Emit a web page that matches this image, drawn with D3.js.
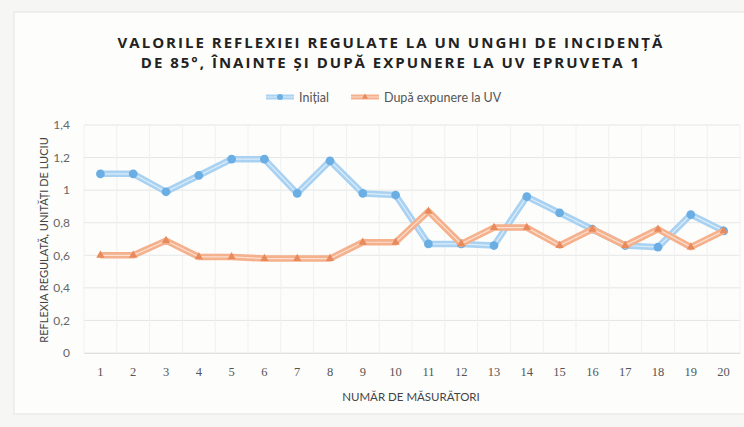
<!DOCTYPE html>
<html>
<head>
<meta charset="utf-8">
<script src="https://cdn.jsdelivr.net/npm/d3@7"></script>
<style>
  body { margin: 0; background: #f6f6f4; }
  svg { display: block; }
</style>
</head>
<body>
<div id="chart"></div>
<script>
// data
const categories = ["1","2","3","4","5","6","7","8","9","10","11","12","13","14","15","16","17","18","19","20"];
const initial = [1.10,1.10,0.99,1.09,1.19,1.19,0.98,1.18,0.98,0.97,0.67,0.67,0.66,0.96,0.86,0.76,0.66,0.65,0.85,0.75];
const afterUV = [0.60,0.60,0.69,0.59,0.59,0.58,0.58,0.58,0.68,0.68,0.87,0.67,0.77,0.77,0.66,0.76,0.66,0.76,0.65,0.75];
const yTicks = [0,0.2,0.4,0.6,0.8,1,1.2,1.4];
const titleLines = ["VALORILE REFLEXIEI REGULATE LA UN UNGHI DE INCIDENȚĂ", "DE 85°, ÎNAINTE ȘI DUPĂ EXPUNERE LA UV EPRUVETA 1"];
const seriesNames = ["Inițial", "După expunere la UV"];

const W = 744, H = 427;
const margin = {top: 125, right: 4, bottom: 74, left: 84};
const w = W - margin.left - margin.right,
      h = H - margin.top - margin.bottom;

const svg = d3.select("#chart").append("svg")
    .attr("width", W)
    .attr("height", H);

// chart frame (scanned page)
svg.append("rect")
    .attr("x", 14).attr("y", 12)
    .attr("width", W - 10).attr("height", 402)
    .attr("fill", "#fdfdfc")
    .attr("stroke", "#e4e4e2");

const g = svg.append("g")
    .attr("transform", `translate(${margin.left},${margin.top})`);

let x = d3.scaleBand().domain(categories).range([0, w]);
let y = d3.scaleLinear().domain([0, 1.4]).range([h, 0]);
const cx = d => x(d) + x.bandwidth() / 2;

// grid
g.append("g").selectAll("line.h")
  .data(yTicks)
  .enter().append("line")
    .attr("x1", 0).attr("x2", w)
    .attr("y1", d => y(d)).attr("y2", d => y(d))
    .attr("stroke", "#e6e6e6").attr("stroke-width", 1);
g.append("g").selectAll("line.v")
  .data(categories.concat(["end"]))
  .enter().append("line")
    .attr("x1", (d, i) => i * x.bandwidth()).attr("x2", (d, i) => i * x.bandwidth())
    .attr("y1", 0).attr("y2", h)
    .attr("stroke", "#f0f0f0").attr("stroke-width", 1);

// axes
const yAxis = g.append("g")
    .call(d3.axisLeft(y).tickValues(yTicks).tickSize(0).tickPadding(14)
      .tickFormat(d => String(d).replace(".", ",")));
yAxis.select(".domain").remove();
yAxis.selectAll("text")
    .attr("fill", "#666").style("font-family", "Lato, sans-serif").style("font-size", "12px");

const xAxis = g.append("g")
    .attr("transform", `translate(0,${h})`)
    .call(d3.axisBottom(x).tickSize(0).tickPadding(14));
xAxis.select(".domain").attr("stroke", "#e0e0e0");
xAxis.selectAll("text")
    .attr("fill", "#555").style("font-family", "'Liberation Serif', serif").style("font-size", "12.5px");

// lines - double style like the excel original
const drawSeries = (data, light, dark, marker) => {
  const line = d3.line()
    .x((d, i) => cx(categories[i]))
    .y(d => y(d));
  g.append("path").datum(data)
    .attr("fill", "none").attr("stroke", light)
    .attr("stroke-width", 6.5).attr("stroke-linejoin", "round")
    .attr("d", line);
  g.append("path").datum(data)
    .attr("fill", "none").attr("stroke", "#fff").attr("stroke-opacity", 0.6)
    .attr("stroke-width", 1.2)
    .attr("d", line);
  g.append("g").selectAll("path")
    .data(data)
    .enter().append("path")
      .attr("transform", (d, i) => `translate(${cx(categories[i])},${y(d)})`)
      .attr("d", d3.symbol().type(marker).size(marker === d3.symbolCircle ? 60 : 30))
      .attr("fill", dark);
};
drawSeries(initial, "#a9d2f2", "#6aaee3", d3.symbolCircle);
drawSeries(afterUV, "#f5b08c", "#e98a5c", d3.symbolTriangle);

// title
svg.append("g").selectAll("text")
  .data(titleLines)
  .enter().append("text")
    .attr("x", 391).attr("y", (d, i) => 48 + i * 20)
    .attr("text-anchor", "middle")
    .attr("fill", "#222")
    .style("font-family", "'Open Sans', sans-serif")
    .style("font-weight", "700")
    .style("font-size", "15px")
    .style("letter-spacing", "2px")
    .text(d => d);

// legend
const legend = [
  {name: seriesNames[0], x: 266, light: "#a9d2f2", dark: "#6aaee3", marker: d3.symbolCircle},
  {name: seriesNames[1], x: 351, light: "#f5b08c", dark: "#e98a5c", marker: d3.symbolTriangle}
];
const lg = svg.append("g").selectAll("g").data(legend).enter().append("g")
    .attr("transform", d => `translate(${d.x},97)`);
lg.append("line").attr("x1", 0).attr("x2", 28).attr("stroke", d => d.light).attr("stroke-width", 5);
lg.append("line").attr("x1", 0).attr("x2", 28).attr("stroke", "#fff").attr("stroke-opacity", 0.6).attr("stroke-width", 1);
lg.append("path").attr("transform", "translate(14,0)")
    .attr("d", d => d3.symbol().type(d.marker).size(d.marker === d3.symbolCircle ? 28 : 16)())
    .attr("fill", d => d.dark);
lg.append("text").attr("x", 33).attr("y", 4.5)
    .attr("fill", "#555")
    .style("font-family", "Lato, sans-serif").style("font-size", "12.5px")
    .text(d => d.name);

// axis titles
svg.append("text")
    .attr("transform", "translate(48,240) rotate(-90)")
    .attr("text-anchor", "middle")
    .attr("fill", "#444")
    .style("font-family", "Lato, sans-serif").style("font-size", "11px")
    .text("REFLEXIA REGULATĂ, UNITĂȚI DE LUCIU");
svg.append("text")
    .attr("x", 411).attr("y", 401)
    .attr("text-anchor", "middle")
    .attr("fill", "#444")
    .style("font-family", "Lato, sans-serif").style("font-size", "11.5px")
    .text("NUMĂR DE MĂSURĂTORI");
</script>
</body>
</html>
